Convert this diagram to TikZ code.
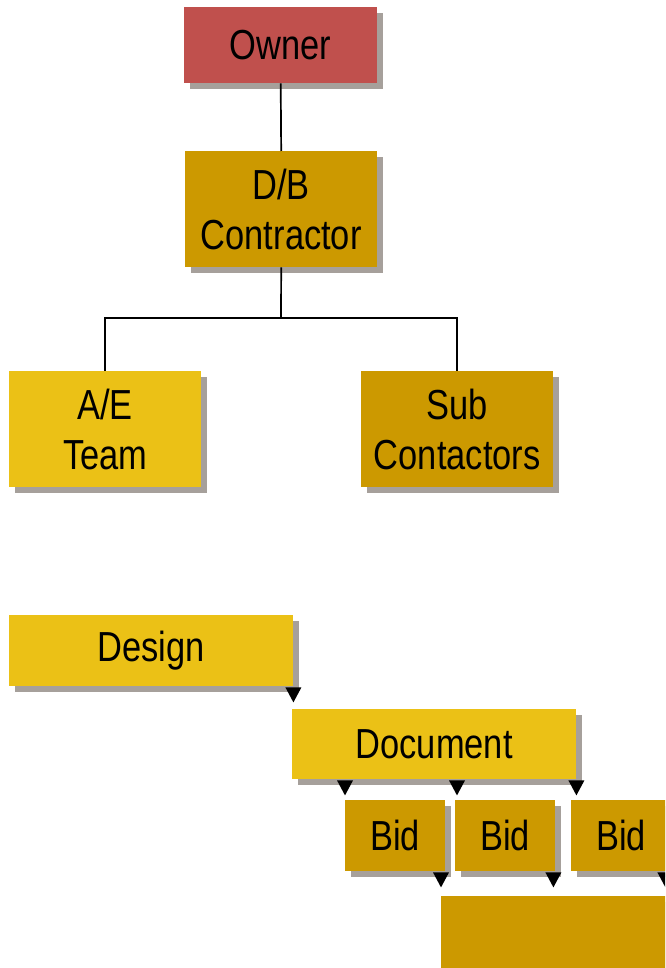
\documentclass[tikz,border=0pt]{standalone}
\usepackage{fontspec}
\setmainfont{Liberation Sans}[FakeStretch=0.82]
\usetikzlibrary{shadows,calc}
\definecolor{ownerred}{RGB}{192,80,77}
\definecolor{darkgold}{RGB}{204,153,0}
\definecolor{lightgold}{RGB}{235,193,22}
\definecolor{shgray}{RGB}{166,160,155}
\newcommand\downmark[1]{\fill[black] ($(#1)+(-8,1)$) -- ++(16,0) -- ++(-8,15) -- cycle;}
\begin{document}
\begin{tikzpicture}[x=1pt,y=-1pt,
  box/.style={rectangle, anchor=north west, inner sep=0pt, align=center,
    font=\fontsize{42}{50}\selectfont, text=black,
    drop shadow={shadow xshift=6pt, shadow yshift=-6pt, fill=shgray, opacity=1}},
  conn/.style={line width=1.7pt, black}]
\clip (0,0) rectangle (665,968);
\fill[white] (0,0) rectangle (665,968);
% org chart
\node[box, fill=ownerred, minimum width=193pt, minimum height=76pt] (owner) at (184,7) {Owner};
\node[box, fill=darkgold, minimum width=192pt, minimum height=116pt] (db) at (185,151) {D/B\\Contractor};
\node[box, fill=lightgold, minimum width=192pt, minimum height=116pt] (ae) at (9,371) {A/E\\Team};
\node[box, fill=darkgold, minimum width=192pt, minimum height=116pt] (sub) at (361,371) {Sub\\Contactors};
\coordinate (j) at (281,318);
\draw[conn] (owner.south) -- (db.north);
\draw[conn] (db.south) -- (j);
\draw[conn] (j) -| (ae.north);
\draw[conn] (j) -| (sub.north);
% sequence
\node[box, fill=lightgold, minimum width=284pt, minimum height=71pt] (design) at (9,615) {Design};
\node[box, fill=lightgold, minimum width=284pt, minimum height=70pt] (document) at (292,709) {Document};
\node[box, fill=darkgold, minimum width=100pt, minimum height=71pt] (bid1) at (345,800) {Bid};
\node[box, fill=darkgold, minimum width=100pt, minimum height=71pt] (bid2) at (455,800) {Bid};
\node[box, fill=darkgold, minimum width=100pt, minimum height=71pt] (bid3) at (571,800) {Bid};
\node[box, fill=darkgold, minimum width=240pt, minimum height=75pt] (final) at (441,896) {};
\downmark{design.south east}
\downmark{document.south -| bid1.west}
\downmark{$(document.south -| bid2.west)+(2,0)$}
\downmark{document.south east}
\downmark{bid1.south -| final.west}
\downmark{$(bid2.south east)+(-2,0)$}
\downmark{$(bid3.south east)+(-6,0)$}
\end{tikzpicture}
\end{document}
